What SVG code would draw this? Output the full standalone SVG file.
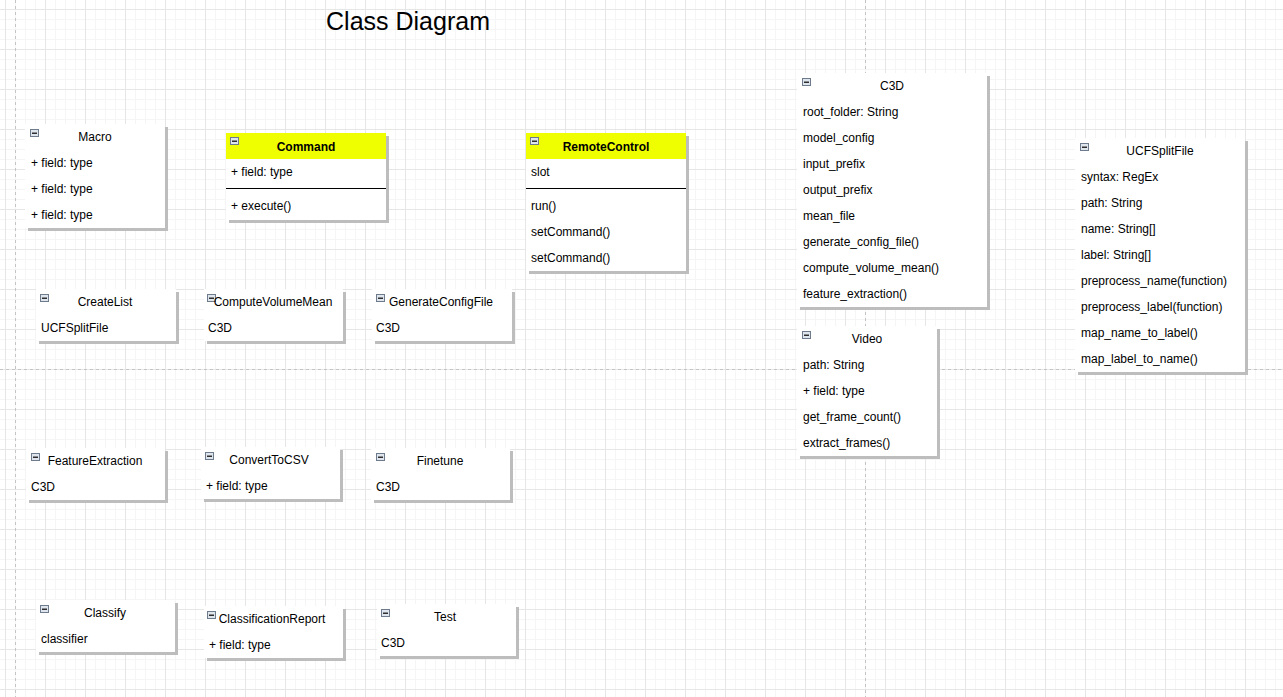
<svg xmlns="http://www.w3.org/2000/svg" xmlns:xlink="http://www.w3.org/1999/xlink" width="1283" height="697" viewBox="0 0 1283 697">
<style>
text{font-family:"Liberation Sans",Arial,Helvetica,sans-serif;font-size:12px;fill:#000}
.t{text-anchor:middle}
.b{font-weight:bold}
.box{fill:#fff}
.sh{fill:#bdbdbd}
.hd{fill:#efff00}
.dv{stroke:#000;stroke-width:1}
.pg{stroke:#c4c4c4;stroke-width:1;stroke-dasharray:3 3;fill:none}
</style>
<defs>
<pattern id="grid" x="5" y="9" width="40" height="40" patternUnits="userSpaceOnUse">
<path d="M10.5 0V40M20.5 0V40M30.5 0V40M0 10.5H40M0 20.5H40M0 30.5H40" stroke="#f5f5f5" stroke-width="1" fill="none"/>
<path d="M0.5 0V40M0 0.5H40" stroke="#e6e6e6" stroke-width="1" fill="none"/>
</pattern>
<g id="ic">
<rect x="0.5" y="0.5" width="8" height="7" fill="#dfe5ec" stroke="#6d7b8c" stroke-width="1"/>
<path d="M2 4.2H7" stroke="#000" stroke-width="1.2"/>
</g>
</defs>
<rect width="1283" height="697" fill="#fff"/>
<rect width="1283" height="697" fill="url(#grid)"/>
<path class="pg" d="M15.5 0V697M865.5 0V697M0 369.5H1283"/>
<text x="408" y="30" class="t" style="font-size:25px">Class Diagram</text>

<g id="connectors"></g>

<g id="Macro">
<rect class="sh" x="28" y="127" width="140" height="104"/>
<rect class="box" x="25" y="124" width="140" height="104"/>
<use xlink:href="#ic" x="30" y="129"/>
<text x="95" y="141" class="t">Macro</text>
<text x="31" y="167">+ field: type</text>
<text x="31" y="193">+ field: type</text>
<text x="31" y="219">+ field: type</text>
</g>

<g id="Command">
<rect class="sh" x="229" y="136" width="160" height="87"/>
<rect class="box" x="226" y="133" width="160" height="87"/>
<rect class="hd" x="226" y="133" width="160" height="26"/>
<use xlink:href="#ic" x="230" y="137"/>
<text x="306" y="151" class="t b">Command</text>
<text x="231" y="176">+ field: type</text>
<line class="dv" x1="226" y1="188.5" x2="386" y2="188.5"/>
<text x="231" y="210">+ execute()</text>
</g>

<g id="RemoteControl">
<rect class="sh" x="529" y="136" width="160" height="138"/>
<rect class="box" x="526" y="133" width="160" height="138"/>
<rect class="hd" x="526" y="133" width="160" height="26"/>
<use xlink:href="#ic" x="530" y="137"/>
<text x="606" y="151" class="t b">RemoteControl</text>
<text x="531" y="176">slot</text>
<line class="dv" x1="526" y1="188.5" x2="686" y2="188.5"/>
<text x="531" y="210">run()</text>
<text x="531" y="236">setCommand()</text>
<text x="531" y="262">setCommand()</text>
</g>

<g id="C3D">
<rect class="sh" x="800" y="76" width="190" height="234"/>
<rect class="box" x="797" y="73" width="190" height="234"/>
<use xlink:href="#ic" x="802" y="78"/>
<text x="892" y="90" class="t">C3D</text>
<text x="803" y="116">root_folder: String</text>
<text x="803" y="142">model_config</text>
<text x="803" y="168">input_prefix</text>
<text x="803" y="194">output_prefix</text>
<text x="803" y="220">mean_file</text>
<text x="803" y="246">generate_config_file()</text>
<text x="803" y="272">compute_volume_mean()</text>
<text x="803" y="298">feature_extraction()</text>
</g>

<g id="UCFSplitFile">
<rect class="sh" x="1078" y="141" width="170" height="234"/>
<rect class="box" x="1075" y="138" width="170" height="234"/>
<use xlink:href="#ic" x="1080" y="143"/>
<text x="1160" y="155" class="t">UCFSplitFile</text>
<text x="1081" y="181">syntax: RegEx</text>
<text x="1081" y="207">path: String</text>
<text x="1081" y="233">name: String[]</text>
<text x="1081" y="259">label: String[]</text>
<text x="1081" y="285">preprocess_name(function)</text>
<text x="1081" y="311">preprocess_label(function)</text>
<text x="1081" y="337">map_name_to_label()</text>
<text x="1081" y="363">map_label_to_name()</text>
</g>

<g id="Video">
<rect class="sh" x="800" y="329" width="140" height="130"/>
<rect class="box" x="797" y="326" width="140" height="130"/>
<use xlink:href="#ic" x="802" y="331"/>
<text x="867" y="343" class="t">Video</text>
<text x="803" y="369">path: String</text>
<text x="803" y="395">+ field: type</text>
<text x="803" y="421">get_frame_count()</text>
<text x="803" y="447">extract_frames()</text>
</g>

<g id="CreateList">
<rect class="sh" x="39" y="292" width="140" height="52"/>
<rect class="box" x="36" y="289" width="140" height="52"/>
<use xlink:href="#ic" x="40" y="294"/>
<text x="105" y="306" class="t">CreateList</text>
<text x="41" y="332">UCFSplitFile</text>
</g>

<g id="ComputeVolumeMean">
<rect class="sh" x="207" y="292" width="139" height="52"/>
<rect class="box" x="204" y="289" width="139" height="52"/>
<use xlink:href="#ic" x="207" y="294"/>
<text x="273" y="306" class="t">ComputeVolumeMean</text>
<text x="208" y="332">C3D</text>
</g>

<g id="GenerateConfigFile">
<rect class="sh" x="375" y="292" width="140" height="52"/>
<rect class="box" x="372" y="289" width="140" height="52"/>
<use xlink:href="#ic" x="376" y="294"/>
<text x="441" y="306" class="t">GenerateConfigFile</text>
<text x="376" y="332">C3D</text>
</g>

<g id="FeatureExtraction">
<rect class="sh" x="29" y="451" width="139" height="52"/>
<rect class="box" x="26" y="448" width="139" height="52"/>
<use xlink:href="#ic" x="31" y="453"/>
<text x="95" y="465" class="t">FeatureExtraction</text>
<text x="31" y="491">C3D</text>
</g>

<g id="ConvertToCSV">
<rect class="sh" x="204" y="450" width="139" height="52"/>
<rect class="box" x="201" y="447" width="139" height="52"/>
<use xlink:href="#ic" x="205" y="452"/>
<text x="269" y="464" class="t">ConvertToCSV</text>
<text x="206" y="490">+ field: type</text>
</g>

<g id="Finetune">
<rect class="sh" x="374" y="451" width="139" height="52"/>
<rect class="box" x="371" y="448" width="139" height="52"/>
<use xlink:href="#ic" x="376" y="453"/>
<text x="440" y="465" class="t">Finetune</text>
<text x="376" y="491">C3D</text>
</g>

<g id="Classify">
<rect class="sh" x="39" y="603" width="139" height="52"/>
<rect class="box" x="36" y="600" width="139" height="52"/>
<use xlink:href="#ic" x="40" y="605"/>
<text x="105" y="617" class="t">Classify</text>
<text x="41" y="643">classifier</text>
</g>

<g id="ClassificationReport">
<rect class="sh" x="207" y="609" width="139" height="52"/>
<rect class="box" x="204" y="606" width="139" height="52"/>
<use xlink:href="#ic" x="207" y="611"/>
<text x="272" y="623" class="t">ClassificationReport</text>
<text x="209" y="649">+ field: type</text>
</g>

<g id="Test">
<rect class="sh" x="380" y="607" width="139" height="52"/>
<rect class="box" x="377" y="604" width="139" height="52"/>
<use xlink:href="#ic" x="381" y="609"/>
<text x="445" y="621" class="t">Test</text>
<text x="381" y="647">C3D</text>
</g>
</svg>
